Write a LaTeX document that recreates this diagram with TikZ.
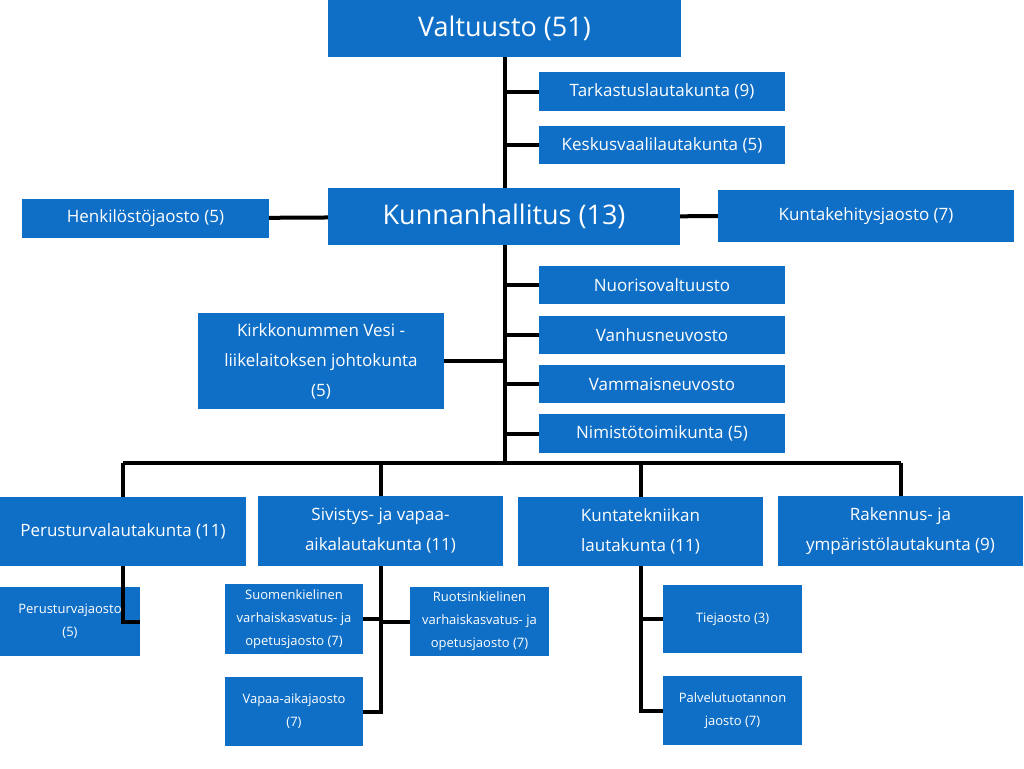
\documentclass[tikz,border=0pt]{standalone}
\usepackage{fontspec}
\setmainfont{Open Sans}
\definecolor{orgblue}{HTML}{0F6FC6}
\tikzset{
  box/.style={fill=orgblue, text=white, inner sep=0pt, align=center},
  big/.style={box, font=\fontsize{27}{32}\selectfont},
  mid/.style={box, font=\fontsize{17}{30}\selectfont},
  sml/.style={box, font=\fontsize{13}{23}\selectfont},
  link/.style={line width=4pt}
}
\newcommand{\orgbox}[6]{% style, name, x1, y1, x2, y2 + text follows
  \node[#1, minimum width=#5-#3, minimum height=#6-#4] (#2) at ({(#3+#5)/2},{(#4+#6)/2})}
\begin{document}
\begin{tikzpicture}[x=1pt,y=-1pt]
\useasboundingbox (0,0) rectangle (1024,768);
% spine coordinates
\coordinate (trunk) at (505,0);
\coordinate (bar) at (0,463);
% top level
\orgbox{big}{valt}{328}{0}{681}{57} {Valtuusto (51)};
\orgbox{mid}{tark}{539}{72}{785}{111} {Tarkastuslautakunta (9)};
\orgbox{mid}{kesk}{539}{126}{785}{164} {Keskusvaalilautakunta (5)};
\orgbox{big}{khal}{328}{188}{680}{245} {Kunnanhallitus (13)};
\orgbox{mid}{henk}{22}{199}{269}{238} {Henkilöstöjaosto (5)};
\orgbox{mid}{kkeh}{718}{190}{1014}{242} {Kuntakehitysjaosto (7)};
% under the board
\orgbox{mid}{nuor}{539}{266}{785}{304} {Nuorisovaltuusto};
\orgbox{mid}{vanh}{539}{316}{785}{354} {Vanhusneuvosto};
\orgbox{mid}{vamm}{539}{365}{785}{403} {Vammaisneuvosto};
\orgbox{mid}{nimi}{539}{414}{785}{453} {Nimistötoimikunta (5)};
\orgbox{mid}{vesi}{198}{313}{444}{409} {Kirkkonummen Vesi -\\liikelaitoksen johtokunta\\(5)};
% committees
\orgbox{mid}{peru}{0}{497}{246}{566} {Perusturvalautakunta (11)};
\orgbox{mid}{sivi}{258}{496}{503}{566} {Sivistys- ja vapaa-\\aikalautakunta (11)};
\orgbox{mid}{ktek}{518}{497}{763}{566} {Kuntatekniikan\\lautakunta (11)};
\orgbox{mid}{rake}{778}{496}{1023}{566} {Rakennus- ja\\ympäristölautakunta (9)};
% sections
\orgbox{sml}{pjao}{0}{587}{140}{656} {Perusturvajaosto\\(5)};
\orgbox{sml}{suom}{225}{584}{363}{654} {Suomenkielinen\\varhaiskasvatus- ja\\opetusjaosto (7)};
\orgbox{sml}{ruot}{410}{587}{549}{656} {Ruotsinkielinen\\varhaiskasvatus- ja\\opetusjaosto (7)};
\orgbox{sml}{vapa}{225}{677}{363}{746} {Vapaa-aikajaosto\\(7)};
\orgbox{sml}{tiej}{663}{585}{802}{653} {Tiejaosto (3)};
\orgbox{sml}{palv}{663}{676}{802}{745} {Palvelutuotannon\\jaosto (7)};
% connectors
\draw[link] (valt.south -| trunk) -- (khal.north -| trunk);
\draw[link] (tark.west) -- (tark.west -| trunk);
\draw[link] (kesk.west) -- (kesk.west -| trunk);
\draw[link] (henk) -- (khal);
\draw[link] (kkeh) -- (khal);
\draw[link] (khal.south -| trunk) -- (bar -| trunk);
\foreach \n in {nuor,vanh,vamm,nimi}
  \draw[link] (\n.west) -- (\n.west -| trunk);
\draw[link] (vesi.east) -- (vesi.east -| trunk);
\draw[link] (bar -| peru) -- (bar -| rake);
\foreach \n in {peru,sivi,ktek,rake}
  \draw[link] (bar -| \n) -- (\n.north);
\draw[link] (peru.south) |- (pjao.east);
\draw[link] (sivi.south) |- (vapa.east);
\draw[link] (suom.east) -- (suom.east -| sivi);
\draw[link] (ruot.west) -- (ruot.west -| sivi);
\draw[link] (ktek.south) |- (palv.west);
\draw[link] (tiej.west) -- (tiej.west -| ktek);
\end{tikzpicture}
\end{document}
